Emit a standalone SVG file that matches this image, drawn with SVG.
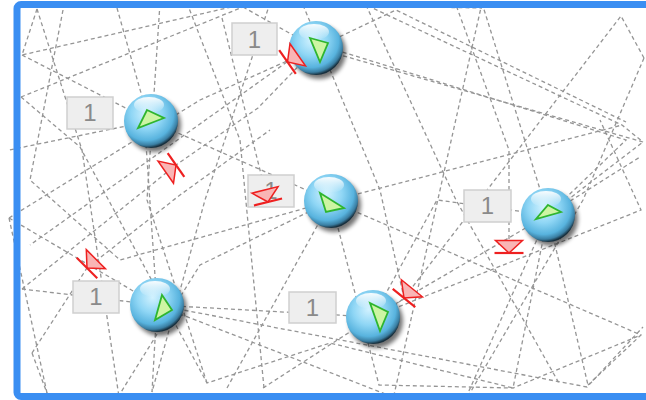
<svg xmlns="http://www.w3.org/2000/svg" width="646" height="400" viewBox="0 0 646 400">
  <defs>
    <radialGradient id="ball" cx="42%" cy="36%" r="64%">
      <stop offset="0" stop-color="#d2f2ff"/>
      <stop offset="0.45" stop-color="#8fd6f5"/>
      <stop offset="0.78" stop-color="#58b3de"/>
      <stop offset="0.92" stop-color="#3a7ea2"/>
      <stop offset="1" stop-color="#18303e"/>
    </radialGradient>
    <linearGradient id="shine" x1="0" y1="0" x2="0" y2="1">
      <stop offset="0" stop-color="#ffffff" stop-opacity="0.95"/>
      <stop offset="1" stop-color="#ffffff" stop-opacity="0"/>
    </linearGradient>
    <filter id="soft" x="-50%" y="-50%" width="200%" height="200%">
      <feGaussianBlur stdDeviation="2"/>
    </filter>
    <g id="sphere">
      <circle cx="3" cy="4" r="27" fill="#000" opacity="0.55" filter="url(#soft)"/>
      <circle r="27" fill="url(#ball)"/>
      <ellipse cx="-2" cy="-16" rx="15" ry="8" fill="url(#shine)"/>
    </g>
    <!-- diode-like end decoration: triangle apex on a bar, pointing +y -->
    <g id="endmark">
      <polygon points="-13.5,-12.5 13.5,-12.5 0,0" class="tri"/>
      <line x1="-14.5" y1="0" x2="14.5" y2="0" class="bar"/>
    </g>
  </defs>
  <style>
    .edge { fill: none; stroke: #959595; stroke-width: 1.3; stroke-dasharray: 4 3; }
    .lbl rect { fill: #eeeeee; stroke: #cfcfcf; stroke-width: 1.5; }
    .lbl text { font-family: "Liberation Sans", Arial, sans-serif; font-size: 24px; fill: #8a8a8a; text-anchor: middle; }
    .tri { fill: #f9b5b5; stroke: #ee2020; stroke-width: 1.5; stroke-linejoin: miter; }
    .bar { stroke: #ee2020; stroke-width: 2.2; }
    .arrow { fill: #cdf5a3; stroke: #2fb52f; stroke-width: 1.8; stroke-linejoin: miter; }
  </style>

  <rect width="646" height="400" fill="#ffffff"/>

  <!-- connectors -->
  <g id="connectors">
    <path class="edge" d="M37,9 L22,55 L240,5"/>
    <path class="edge" d="M37,9 L82,150 L119,397"/>
    <path class="edge" d="M22,55 L151,121 L331,201 L641,335 L588,385"/>
    <path class="edge" d="M21,97 L243,7 L303,5 L482,8"/>
    <path class="edge" d="M21,97 L80,147 L207,383 L330,343 L513,388"/>
    <path class="edge" d="M117,8 L143,100 L157,305 L152,392"/>
    <path class="edge" d="M187,3 L240,140 L264,388"/>
    <path class="edge" d="M243,7 L316,48 L643,142 L622,125 L366,5"/>
    <path class="edge" d="M303,5 L380,190 L404,298"/>
    <path class="edge" d="M482,3 L394,395"/>
    <path class="edge" d="M482,3 L548,215 L513,388"/>
    <path class="edge" d="M548,215 L468,393"/>
    <path class="edge" d="M644,58 L621,16 L404,298 L392,308"/>
    <path class="edge" d="M644,58 L583,200 L470,393"/>
    <path class="edge" d="M9,218 L200,100 L316,48 L396,10 L626,122"/>
    <path class="edge" d="M9,218 L157,305 L393,397"/>
    <path class="edge" d="M22,289 L176,165 L258,108 L316,48"/>
    <path class="edge" d="M32,353 L87,268 L180,195 L270,130"/>
    <path class="edge" d="M32,353 L47,393"/>
    <path class="edge" d="M22,289 L157,305 L373,317 L548,215 L640,157"/>
    <path class="edge" d="M222,18 L268,202"/>
    <path class="edge" d="M287,62 L124,178 L30,245"/>
    <path class="edge" d="M509,253 L509,150 L456,5"/>
    <path class="edge" d="M331,201 L379,385 L513,388 L641,335"/>
    <path class="edge" d="M331,201 L227,388"/>
    <path class="edge" d="M373,317 L641,210 L600,120"/>
    <path class="edge" d="M157,305 L587,387 L643,327"/>
    <path class="edge" d="M366,5 L456,200 L560,385"/>
    <path class="edge" d="M118,397 L200,265 L331,201 L622,125"/>
    <path class="edge" d="M207,383 L147,200 L160,3"/>
    <path class="edge" d="M263,388 L373,317 L437,200 L548,215 L643,142"/>
    <path class="edge" d="M47,393 L9,218"/>
    <path class="edge" d="M151,121 L9,150"/>
    <path class="edge" d="M63,10 L30,180 L120,260 L331,201"/>
    <path class="edge" d="M270,3 L205,200 L152,392"/>
    <path class="edge" d="M336,50 L626,140 L548,215 L588,385"/>
  </g>

  <!-- nodes -->
  <g id="node-a">
    <use href="#sphere" x="316" y="48"/>
    <polygon class="arrow" points="310,38 328,43 320,62"/>
  </g>
  <g id="node-b">
    <use href="#sphere" x="151" y="121"/>
    <polygon class="arrow" points="147,110 164,118 138,128"/>
  </g>
  <g id="node-c">
    <use href="#sphere" x="331" y="201"/>
    <polygon class="arrow" points="320,193 344,208 326,212"/>
  </g>
  <g id="node-d">
    <use href="#sphere" x="548" y="215"/>
    <polygon class="arrow" points="548,205 561,212 536,219"/>
  </g>
  <g id="node-e">
    <use href="#sphere" x="157" y="305"/>
    <polygon class="arrow" points="162,295 172,310 155,320"/>
  </g>
  <g id="node-f">
    <use href="#sphere" x="373" y="317"/>
    <polygon class="arrow" points="370,303 388,312 380,331"/>
  </g>

  <!-- edge labels -->
  <g id="label-a" class="lbl"><rect x="232" y="23" width="45" height="32"/><text x="254.5" y="48">1</text></g>
  <g id="label-b" class="lbl"><rect x="67" y="97" width="46" height="32"/><text x="90" y="121">1</text></g>
  <g id="label-c" class="lbl"><rect x="248" y="175" width="46" height="32"/><text x="271" y="199">1</text></g>
  <g id="label-d" class="lbl"><rect x="464" y="190" width="47" height="32"/><text x="487.5" y="214">1</text></g>
  <g id="label-e" class="lbl"><rect x="73" y="281" width="46" height="32"/><text x="96" y="305">1</text></g>
  <g id="label-f" class="lbl"><rect x="289" y="292" width="47" height="31"/><text x="312.5" y="316">1</text></g>

  <!-- end decorations -->
  <g id="ends">
    <use href="#endmark" transform="translate(287.5,62) rotate(55)"/>
    <use href="#endmark" transform="translate(509,253)"/>
    <use href="#endmark" transform="translate(176,165) rotate(-125)"/>
    <use href="#endmark" transform="translate(87,268) rotate(45)"/>
    <use href="#endmark" transform="translate(268,202) rotate(-14)"/>
    <use href="#endmark" transform="translate(404,298) rotate(39)"/>
  </g>

  <!-- frame -->
  <rect x="17" y="4.5" width="640" height="392" rx="4" fill="none" stroke="#3a8ef2" stroke-width="7"/>
</svg>
